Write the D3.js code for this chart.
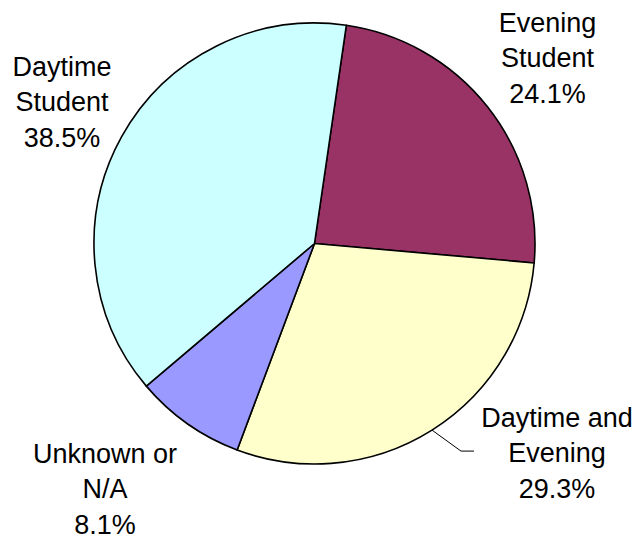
<!DOCTYPE html>
<html><head><meta charset="utf-8">
<script src="https://cdn.jsdelivr.net/npm/d3@7"></script>
<style>html,body{margin:0;padding:0;background:#fff;}</style>
</head><body>
<svg id="c" width="638" height="539"></svg>
<script>
const categories = ["Evening Student", "Daytime and Evening", "Unknown or N/A", "Daytime Student"];
const labelLines = [["Evening", "Student"], ["Daytime and", "Evening"], ["Unknown or", "N/A"], ["Daytime", "Student"]];
const values = [24.1, 29.3, 8.1, 38.5];
const colors = ["#993366", "#FFFFCC", "#9999FF", "#CCFFFF"];

// layout (not data)
const cx = 314.5, cy = 243.5, R = 220.5;
const startDeg = 8.3;
const labelPos = [[547.5, 32], [557, 427], [105, 463], [62, 76]]; // center x, first baseline
const lineH = 35.3;

const svg = d3.select("#c");
const g = svg.append("g").attr("transform", `translate(${cx},${cy})`);
const toRad = d => d * Math.PI / 180;
const pie = d3.pie().sort(null).value(d => d)
  .startAngle(toRad(startDeg)).endAngle(toRad(startDeg + 360));
const arcs = pie(values);
const arc = d3.arc().innerRadius(0).outerRadius(R);

g.selectAll("path.slice").data(arcs).enter().append("path")
  .attr("class", "slice")
  .attr("d", arc)
  .attr("fill", (d, i) => colors[i])
  .attr("stroke", "#000")
  .attr("stroke-width", 1.6)
  .attr("stroke-linejoin", "round");

// leader line for Daytime and Evening
const a1 = arcs[1];
const mid = (a1.startAngle + a1.endAngle) / 2;
const p0 = [cx + R * Math.sin(mid), cy - R * Math.cos(mid)];
const p1 = [p0[0] + 29, p0[1] + 21];
const p2 = [p1[0] + 13, p1[1]];
svg.append("polyline")
  .attr("points", [p0, p1, p2].map(p => p.join(",")).join(" "))
  .attr("fill", "none").attr("stroke", "#000").attr("stroke-width", 1);

const font = "'Liberation Sans', Arial, Helvetica, sans-serif";
categories.forEach((c, i) => {
  const lines = labelLines[i].concat([d3.format(".1f")(values[i]) + "%"]);
  const t = svg.append("text")
    .attr("text-anchor", "middle")
    .attr("font-family", font)
    .attr("font-size", 27)
    .attr("fill", "#000");
  lines.forEach((l, j) => {
    t.append("tspan").attr("x", labelPos[i][0]).attr("y", labelPos[i][1] + j * lineH).text(l);
  });
});
</script>
</body></html>
